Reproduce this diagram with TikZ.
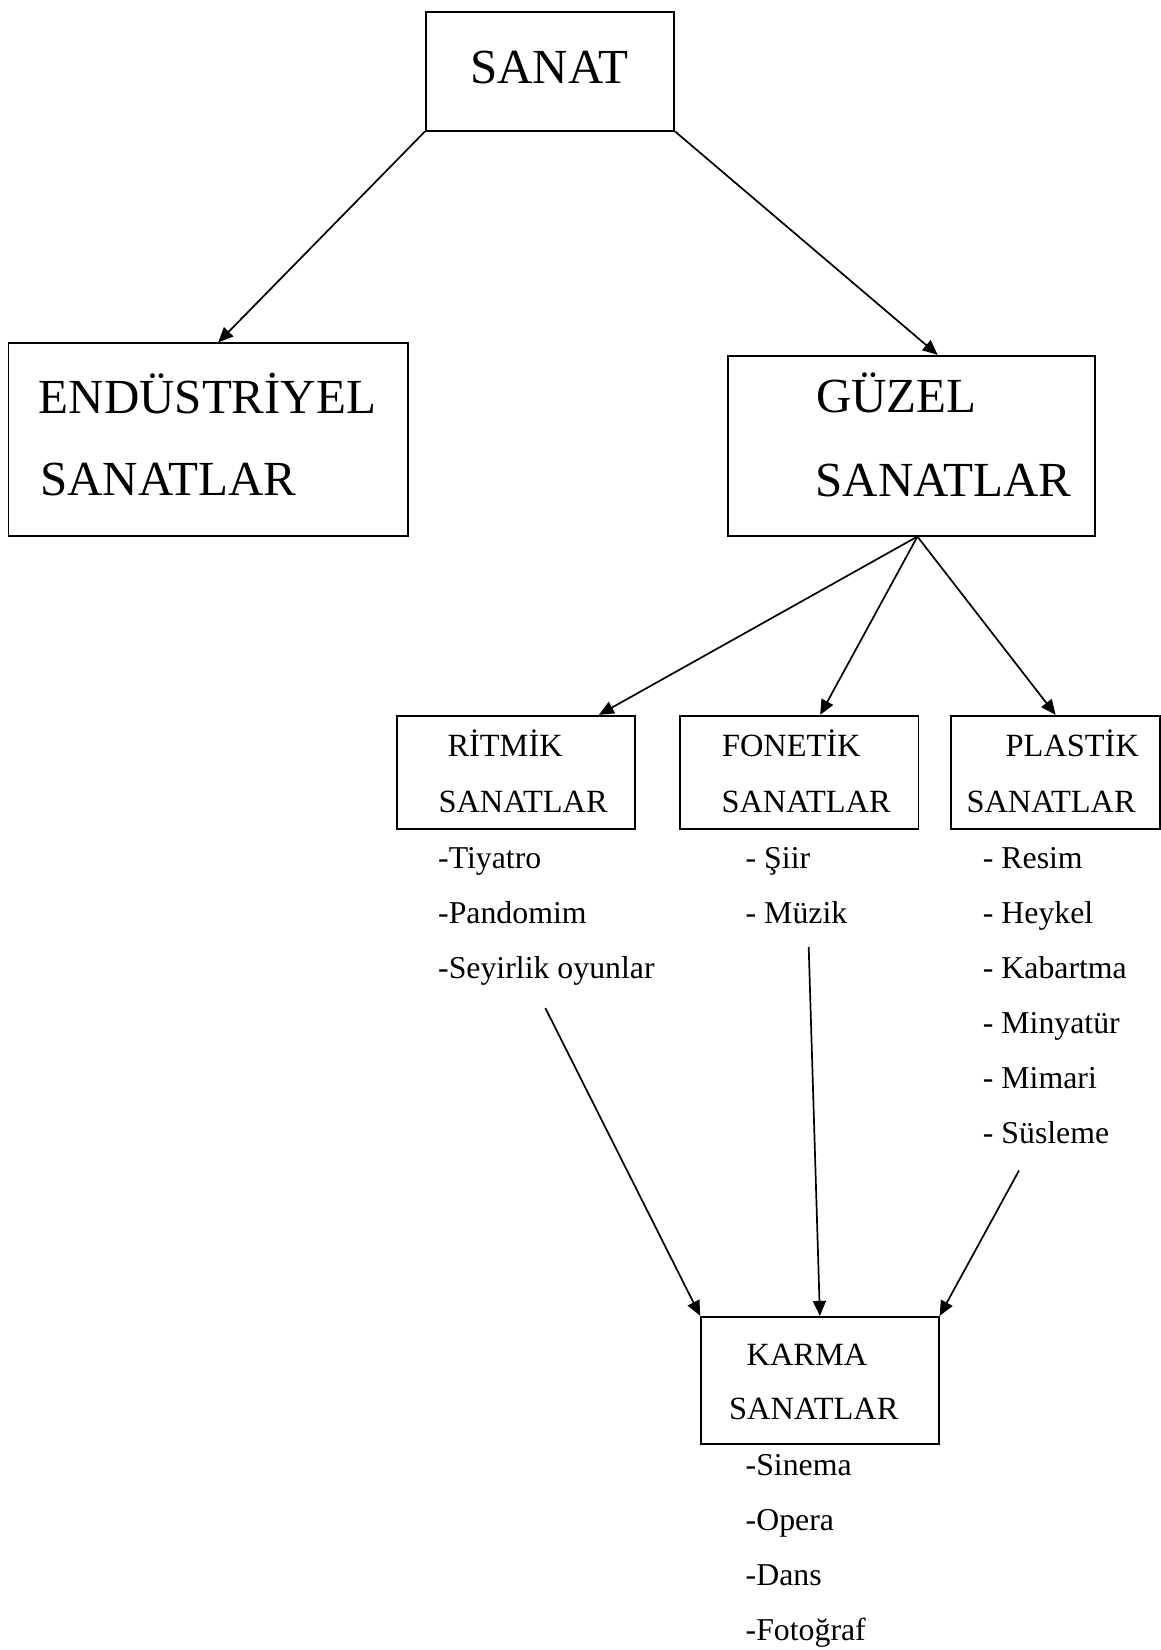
\documentclass[tikz,border=0pt]{standalone}
\usepackage{fontspec}
\setmainfont{Liberation Serif}
\usetikzlibrary{arrows.meta}

\begin{document}
\begin{tikzpicture}[x=1pt, y=-1pt,
    box/.style={draw, line width=1.7pt, inner sep=0pt},
    big/.style={inner sep=0pt, anchor=base west, font=\fontsize{49}{49}\selectfont},
    title/.style={inner sep=0pt, anchor=base west, font=\fontsize{32.4}{32.4}\selectfont},
    item/.style={inner sep=0pt, anchor=base west, font=\fontsize{31.8}{31.8}\selectfont},
    arr/.style={line width=1.7pt, -{Triangle[length=15pt, width=13pt]}}]
  \useasboundingbox (0,0) rectangle (1161,1650);

  % boxes
  \node[box, minimum width=248.6pt, minimum height=119pt] (sanat) at (550,71.2) {};
  \node[box, minimum width=399.7pt, minimum height=192.4pt] (endus) at (208.2,439.5) {};
  \node[box, minimum width=367.3pt, minimum height=180pt] (guzel) at (911.4,445.7) {};
  \node[box, minimum width=238.3pt, minimum height=113.6pt] (ritmik) at (515.9,772.5) {};
  \node[box, minimum width=238.3pt, minimum height=113.6pt] (fonetik) at (799.2,772.5) {};
  \node[box, minimum width=209.3pt, minimum height=113.6pt] (plastik) at (1055.6,772.5) {};
  \node[box, minimum width=237.7pt, minimum height=127.3pt] (karma) at (819.9,1380.4) {};

  % box texts
  \node[big] (sanatT) at (470,83) {SANAT};
  \node[big] (endusT) at (38.5,413.3) {ENDÜSTRİYEL};
  \node[big] (endusS) at (40,495) {SANATLAR};
  \node[big] (guzelT) at (816,412.7) {GÜZEL};
  \node[big] (guzelS) at (815.5,496) {SANATLAR};
  \node[title] (ritmikT) at (447.3,756.7) {RİTMİK};
  \node[title] (ritmikS) at (438.3,812.7) {SANATLAR};
  \node[title] (fonetikT) at (721.8,756.7) {FONETİK};
  \node[title] (fonetikS) at (721.3,812.7) {SANATLAR};
  \node[title] (plastikT) at (1005.5,756.7) {PLASTİK};
  \node[title] (plastikS) at (966.3,812.7) {SANATLAR};
  \node[title] (karmaT) at (746.4,1365) {KARMA};
  \node[title] (karmaS) at (729,1419.3) {SANATLAR};

  % lists under the boxes
  \foreach \t [count=\i from 0] in {-Tiyatro, -Pandomim, -Seyirlik oyunlar}
    \node[item] (rit\i) at (438,868+55*\i) {\t};
  \foreach \t [count=\i from 0] in {- Şiir, - Müzik}
    \node[item] (fon\i) at (745.5,868+55*\i) {\t};
  \foreach \t [count=\i from 0] in {- Resim, - Heykel, - Kabartma, - Minyatür, - Mimari, - Süsleme}
    \node[item] (pla\i) at (982.7,868+55*\i) {\t};
  \foreach \t [count=\i from 0] in {-Sinema, -Opera, -Dans, -Fotoğraf}
    \node[item] (kar\i) at (745.5,1475+55*\i) {\t};

  % connectors
  \draw[arr] (sanat.south west) -- ([xshift=10pt]endus.north);
  \draw[arr] (sanat.south east) -- ([xshift=26.3pt]guzel.north);
  \draw[arr] ([xshift=6pt]guzel.south) -- ([xshift=-37pt]ritmik.north east);
  \draw[arr] ([xshift=6pt]guzel.south) -- ([xshift=21pt]fonetik.north);
  \draw[arr] ([xshift=6pt]guzel.south) -- (plastik.north);

  \coordinate (ritEnd) at (545.3,1008);
  \coordinate (fonEnd) at (808.7,947);
  \coordinate (plaEnd) at (1019,1170.5);
  \draw[arr] (ritEnd) -- (karma.north west);
  \draw[arr] (fonEnd) -- (karma.north);
  \draw[arr] (plaEnd) -- (karma.north east);
\end{tikzpicture}
\end{document}
